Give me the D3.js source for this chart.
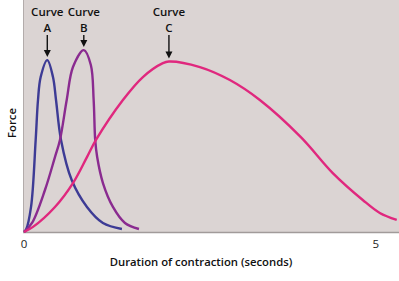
<!DOCTYPE html>
<html>
<head>
<meta charset="utf-8">
<script src="https://cdn.jsdelivr.net/npm/d3@7"></script>
<style>
  body { margin: 0; background: #fff; }
  svg { display: block; font-family: "Open Sans", sans-serif; }
</style>
</head>
<body>
<div id="chart"></div>
<script>
// duration (s) / relative force
let curveA = [[0,0],[0.028,0.9],[0.10,10.8],[0.166,39.7],[0.199,56.9],[0.237,66.8],[0.331,74.1],
    [0.412,66.8],[0.455,56.9],[0.526,39.7],[0.678,22.4],[0.895,10.8],[1.122,3.9],[1.392,1.3]];
let curveB = [[0,0],[0.114,3.9],[0.298,18.1],[0.440,32.3],[0.511,39.7],[0.607,56.9],[0.696,71.1],
    [0.85,78.4],[0.95,72],[0.99,56.9],[1.012,39.7],[1.04,32.3],[1.122,21.1],[1.264,10.8],
    [1.435,3.9],[1.634,1.3]];
let curveC = [[0,0],[0.128,2.2],[0.440,10.8],[0.696,21.1],[0.895,32.3],[1.023,39.7],[1.406,56.9],
    [1.690,66.8],[1.974,72.8],[2.060,73.5],[2.500,71.1],[2.926,65.5],[3.352,56.9],[3.935,40.9],
    [4.389,25.4],[4.815,13.8],[5.057,8.2],[5.298,5.2]];

let curveNames = ["A", "B", "C"];
let curveColors = ["#3d3b95", "#8a2b90", "#e0287e"];
let xTicks = [0, 5];

let margin = {top: 0, right: 0, bottom: 49, left: 23};
let width = 399 - margin.left - margin.right;
let height = 281 - margin.top - margin.bottom;

let svg = d3.select("#chart").append("svg")
    .attr("width", 399)
    .attr("height", 281);

let g = svg.append("g")
    .attr("transform", `translate(${margin.left}, ${margin.top})`);

// background
g.append("rect")
    .attr("width", width)
    .attr("height", height)
    .attr("fill", "#dbd4d3");

let x = d3.scaleLinear().domain([0, 5.33]).range([1, width]);
let y = d3.scaleLinear().domain([0, 100]).range([height, 0]);

// left border + bottom axis line
g.append("line")
    .attr("x1", 0.5).attr("x2", 0.5)
    .attr("y1", 0).attr("y2", height)
    .attr("stroke", "#b3acab").attr("stroke-width", 1);

g.append("line")
    .attr("x1", 0).attr("x2", width)
    .attr("y1", height + 0.5).attr("y2", height + 0.5)
    .attr("stroke", "#a19b9a").attr("stroke-width", 1.5);

let line = d3.line()
    .x(d => x(d[0]))
    .y(d => y(d[1]))
    .curve(d3.curveCatmullRom.alpha(0.5));

let curves = [curveA, curveB, curveC];
curves.forEach((c, i) => {
    g.append("path")
        .attr("d", line(c))
        .attr("fill", "none")
        .attr("stroke", curveColors[i])
        .attr("stroke-width", 2.4);
});

// labels and arrows above each peak
curves.forEach((c, i) => {
    let peak = c.reduce((a, b) => b[1] > a[1] ? b : a);
    let px = x(peak[0]);
    let py = y(peak[1]);
    g.append("text")
        .attr("x", px).attr("y", 16)
        .attr("text-anchor", "middle")
        .attr("font-size", 11.5).attr("font-weight", 600)
        .attr("fill", "#111")
        .text("Curve");
    g.append("text")
        .attr("x", px).attr("y", 32)
        .attr("text-anchor", "middle")
        .attr("font-size", 11.5).attr("font-weight", 600)
        .attr("fill", "#111")
        .text(curveNames[i]);
    g.append("line")
        .attr("x1", px).attr("x2", px)
        .attr("y1", 35).attr("y2", py - 9)
        .attr("stroke", "#111").attr("stroke-width", 1.4);
    g.append("path")
        .attr("d", `M${px - 3.5},${py - 10} L${px + 3.5},${py - 10} L${px},${py - 3} Z`)
        .attr("fill", "#111");
});

// x tick labels
g.selectAll(".tick-label")
    .data(xTicks)
    .enter()
    .append("text")
    .attr("class", "tick-label")
    .attr("x", d => x(d))
    .attr("y", height + 16)
    .attr("text-anchor", "middle")
    .attr("font-size", 11.5)
    .attr("fill", "#222")
    .text(d => d);

// axis titles
svg.append("text")
    .attr("x", 201).attr("y", 266)
    .attr("text-anchor", "middle")
    .attr("font-size", 11.3).attr("font-weight", 600)
    .attr("fill", "#111")
    .text("Duration of contraction (seconds)");

svg.append("text")
    .attr("transform", "translate(16, 123) rotate(-90)")
    .attr("text-anchor", "middle")
    .attr("font-size", 11.3).attr("font-weight", 600)
    .attr("fill", "#111")
    .text("Force");
</script>
</body>
</html>
